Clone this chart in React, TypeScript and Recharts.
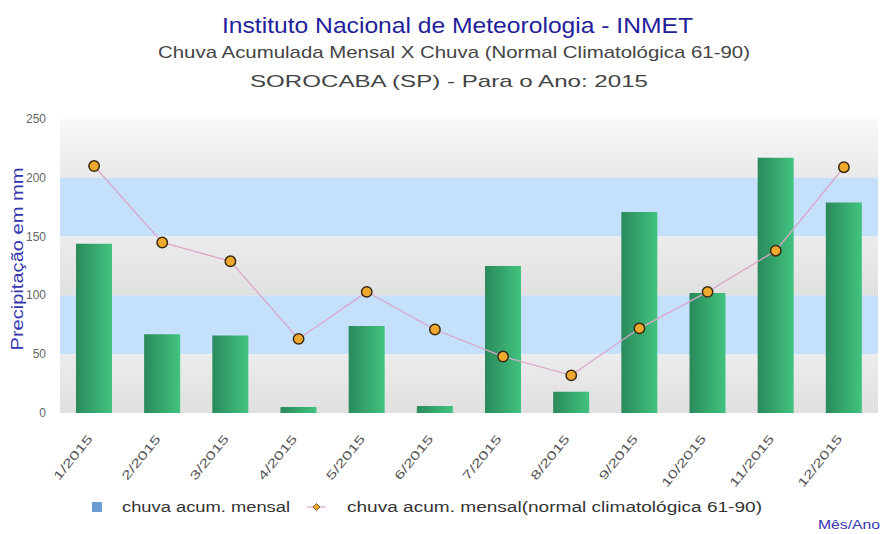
import React from 'react';
import {
  ComposedChart,
  Bar,
  Line,
  XAxis,
  YAxis,
  ReferenceArea,
} from 'recharts';

const months = [
  '1/2015', '2/2015', '3/2015', '4/2015', '5/2015', '6/2015',
  '7/2015', '8/2015', '9/2015', '10/2015', '11/2015', '12/2015',
];
const chuvaMensal = [144, 67, 66, 5, 74, 6, 125, 18, 171, 102, 217, 179];
const normal6190 = [210, 145, 129, 63, 103, 71, 48, 32, 72, 103, 138, 209];
const yTicks = [0, 50, 100, 150, 200, 250];

const data = months.map((m, i) => ({
  mes: m,
  chuva: chuvaMensal[i],
  normal: normal6190[i],
}));

const FONT = '"Liberation Sans", Arial, sans-serif';

const XTick = (props: any) => {
  const { x, y, payload } = props;
  const txt: string = payload.value;
  const ax = x - 1;
  const ay = y + 18;
  return (
    <text
      x={ax}
      y={ay}
      transform={`rotate(-51, ${ax}, ${ay})`}
      textAnchor="end"
      fontFamily={FONT}
      fontSize={12}
      fill="#555"
      textLength={txt.length * 9}
      lengthAdjust="spacingAndGlyphs"
    >
      {txt}
    </text>
  );
};

const YTick = (props: any) => {
  const { y, payload } = props;
  return (
    <text x={46} y={y + 4} textAnchor="end" fontFamily={FONT} fontSize={12} fill="#666">
      {payload.value}
    </text>
  );
};

export default function App() {
  return (
    <div style={{ position: 'absolute', left: 0, top: 0, width: 882, height: 534, background: '#fff' }}>
      <ComposedChart
        width={882}
        height={534}
        data={data}
        margin={{ top: 119, right: 4, left: 0, bottom: 0 }}
      >
        <defs>
          <linearGradient id="barGrad" x1="0" y1="0" x2="1" y2="0">
            <stop offset="0%" stopColor="#2a8a5b" />
            <stop offset="100%" stopColor="#42c37f" />
          </linearGradient>
          <linearGradient id="topBand" x1="0" y1="0" x2="0" y2="1">
            <stop offset="0%" stopColor="#f8f8f8" />
            <stop offset="100%" stopColor="#e9e9e9" />
          </linearGradient>
          <linearGradient id="greyBand" x1="0" y1="0" x2="0" y2="1">
            <stop offset="0%" stopColor="#ececec" />
            <stop offset="100%" stopColor="#e0e0e0" />
          </linearGradient>
        </defs>
        <ReferenceArea y1={200} y2={250} fill="url(#topBand)" fillOpacity={1} stroke="none" />
        <ReferenceArea y1={150} y2={200} fill="#c4e0fa" fillOpacity={1} stroke="none" />
        <ReferenceArea y1={100} y2={150} fill="url(#greyBand)" fillOpacity={1} stroke="none" />
        <ReferenceArea y1={50} y2={100} fill="#c4e0fa" fillOpacity={1} stroke="none" />
        <ReferenceArea y1={0} y2={50} fill="url(#greyBand)" fillOpacity={1} stroke="none" />
        <XAxis
          dataKey="mes"
          height={121}
          axisLine={false}
          tickLine={false}
          interval={0}
          tick={<XTick />}
        />
        <YAxis
          width={60}
          domain={[0, 250]}
          ticks={yTicks}
          axisLine={false}
          tickLine={false}
          tick={<YTick />}
        />
        <Bar dataKey="chuva" fill="url(#barGrad)" barSize={36} isAnimationActive={false} />
        <Line
          dataKey="normal"
          stroke="#d9a8c9"
          strokeWidth={1.3}
          dot={{ r: 5.2, fill: '#f0a92f', stroke: '#3b2a12', strokeWidth: 1.5 }}
          isAnimationActive={false}
        />
      </ComposedChart>

      <svg
        width={882}
        height={534}
        style={{ position: 'absolute', left: 0, top: 0, pointerEvents: 'none' }}
      >
        <text x={222} y={33} fontFamily={FONT} fontSize={22} fill="#22229a"
          textLength={471} lengthAdjust="spacingAndGlyphs">
          Instituto Nacional de Meteorologia - INMET
        </text>
        <text x={158} y={58} fontFamily={FONT} fontSize={17} fill="#444"
          textLength={592} lengthAdjust="spacingAndGlyphs">
          Chuva Acumulada Mensal X Chuva (Normal Climatológica 61-90)
        </text>
        <text x={250} y={87} fontFamily={FONT} fontSize={17} fill="#444"
          textLength={398} lengthAdjust="spacingAndGlyphs">
          SOROCABA (SP) - Para o Ano: 2015
        </text>
        <text
          x={0}
          y={0}
          transform="translate(23, 259) rotate(-90)"
          textAnchor="middle"
          fontFamily={FONT}
          fontSize={16}
          fill="#3535b0"
          textLength={183}
          lengthAdjust="spacingAndGlyphs"
        >
          Precipitação em mm
        </text>

        {/* legenda */}
        <rect x={92} y={502} width={10} height={10} fill="#6a9bd2" />
        <text x={122} y={512} fontFamily={FONT} fontSize={14} fill="#333"
          textLength={168} lengthAdjust="spacingAndGlyphs">
          chuva acum. mensal
        </text>
        <line x1={307} y1={507} x2={326} y2={507} stroke="#d9a8c9" strokeWidth={1.2} />
        <path d="M316.5 503.5 L320 507 L316.5 510.5 L313 507 Z" fill="#f0a92f" stroke="#5a4020" strokeWidth={0.8} />
        <text x={347} y={512} fontFamily={FONT} fontSize={14} fill="#333"
          textLength={415} lengthAdjust="spacingAndGlyphs">
          chuva acum. mensal(normal climatológica 61-90)
        </text>
        <text x={818} y={529} fontFamily={FONT} fontSize={13} fill="#3535b0"
          textLength={62} lengthAdjust="spacingAndGlyphs">
          Mês/Ano
        </text>
      </svg>
    </div>
  );
}
